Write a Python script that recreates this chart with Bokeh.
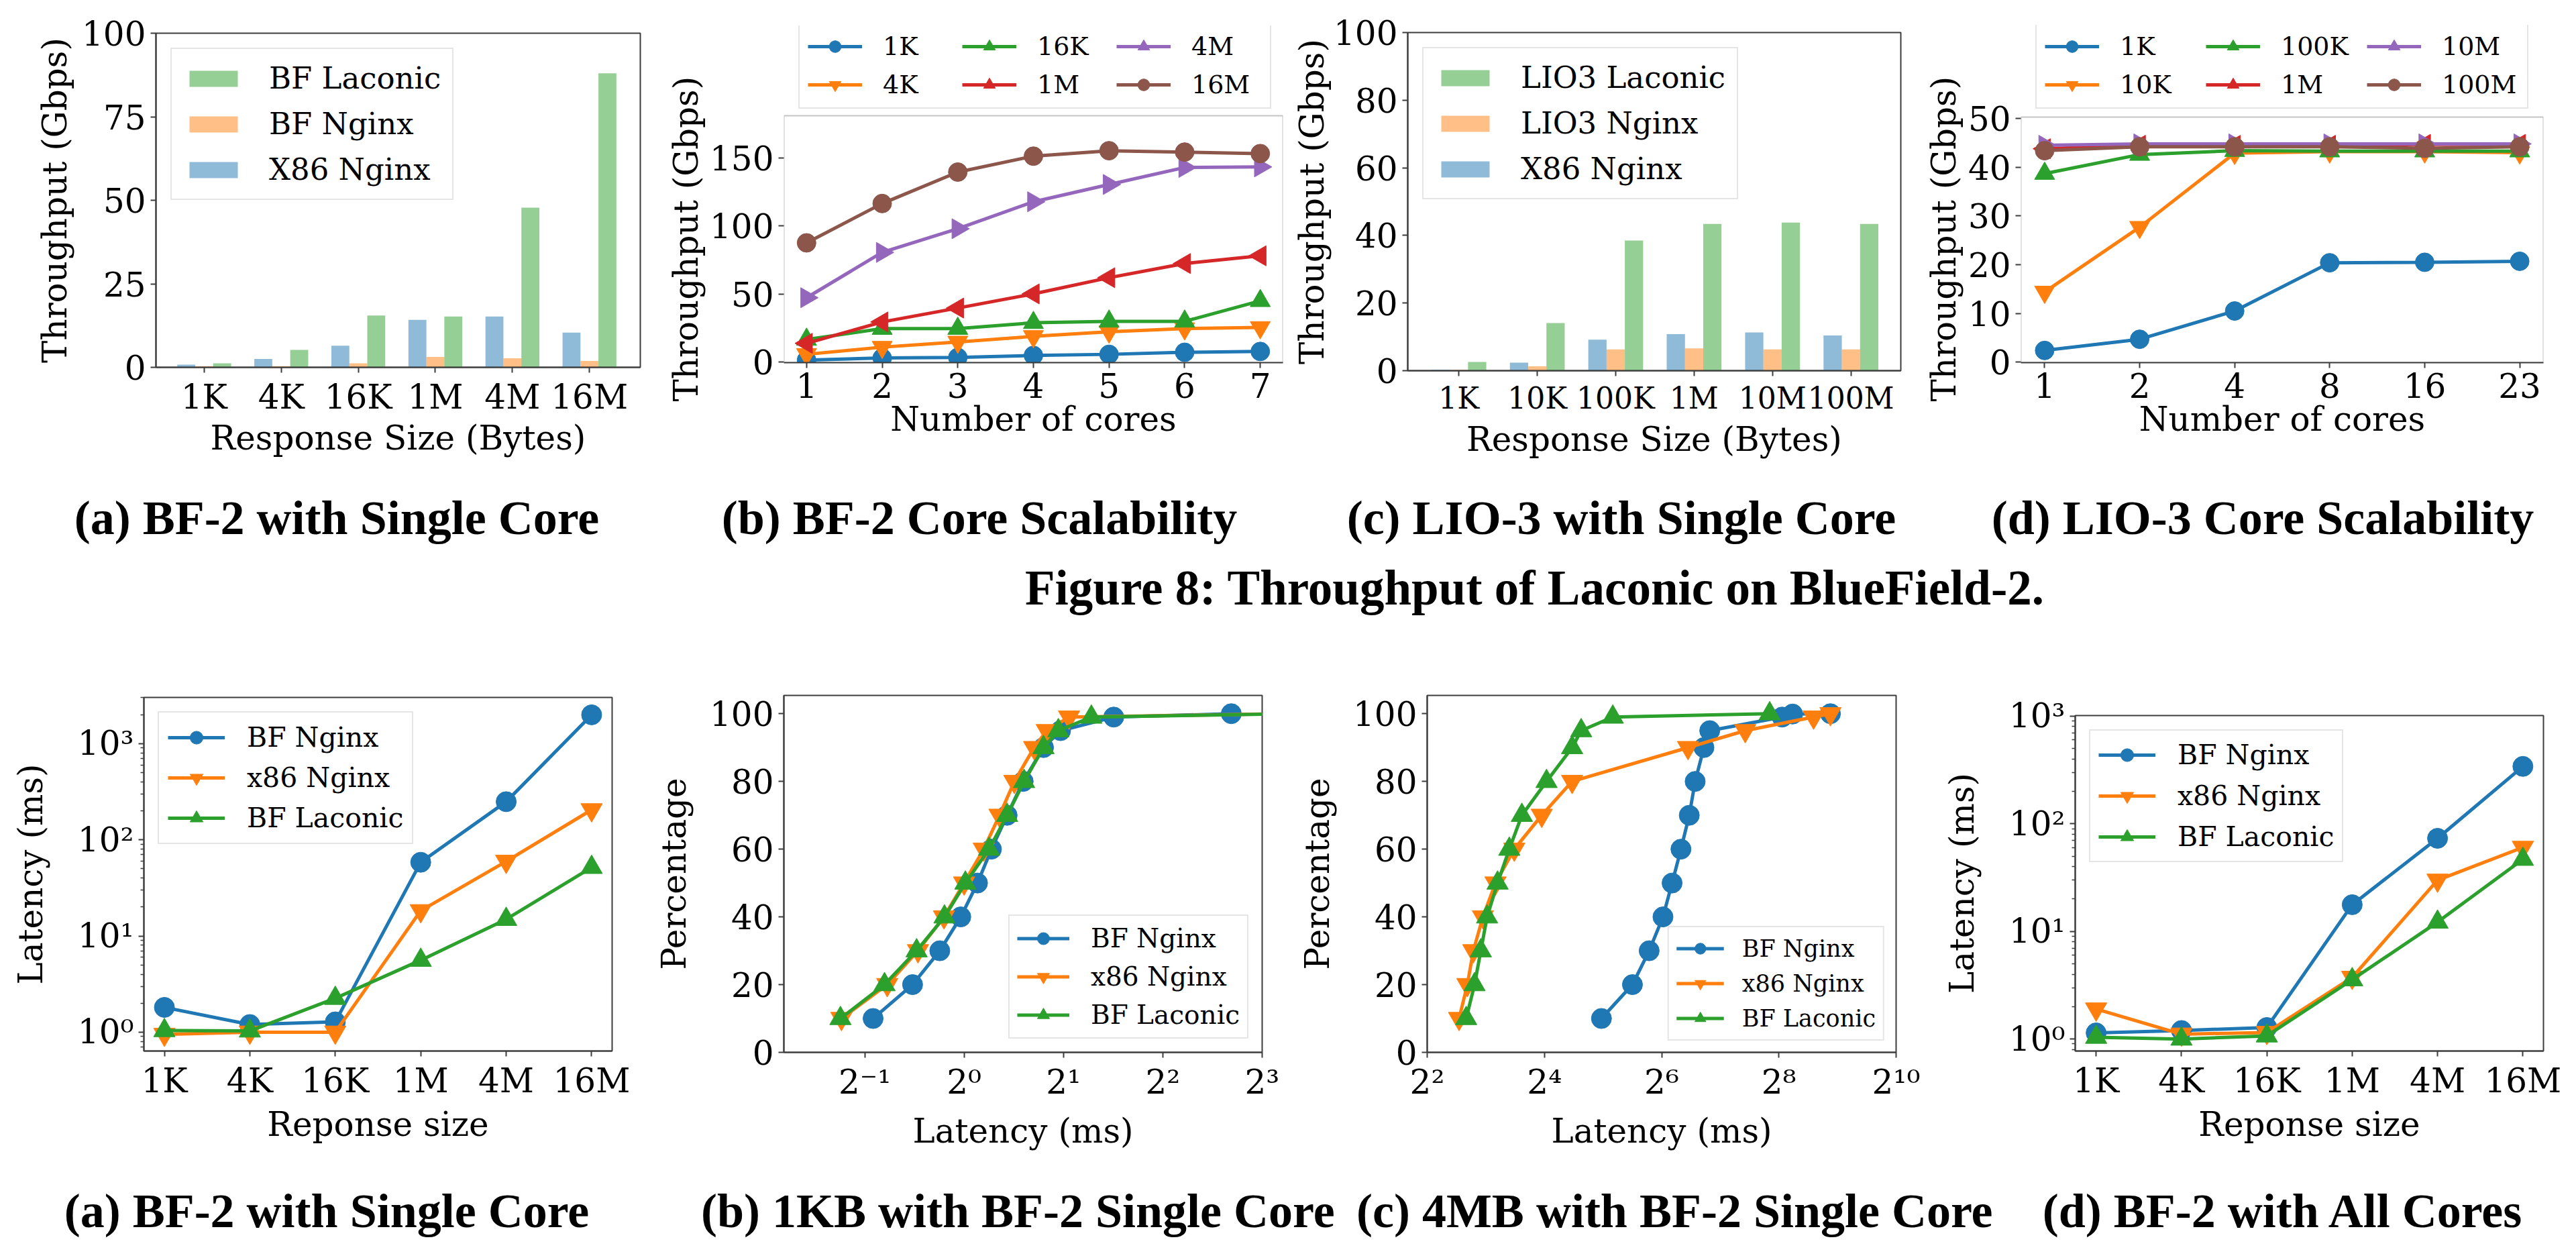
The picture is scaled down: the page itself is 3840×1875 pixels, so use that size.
import math
from bokeh.plotting import figure
from bokeh.models import (Range1d, FixedTicker, Legend, LegendItem, Div,
                          ColumnDataSource, BoxAnnotation, Title)
from bokeh.layouts import column, row
from bokeh.transform import dodge
from bokeh.embed import file_html
from bokeh.resources import INLINE

# ------------------------------------------------------------------ data
# Figure 8 (a): BF-2 with single core, throughput (Gbps)
sizes_a = ["1K", "4K", "16K", "1M", "4M", "16M"]
a_x86_nginx = [0.8, 2.5, 6.5, 14.2, 15.2, 10.4]
a_bf_nginx = [0.3, 0.3, 1.2, 3.1, 2.7, 1.9]
a_bf_laconic = [1.2, 5.2, 15.5, 15.2, 47.8, 88.0]
yt_a = [0, 25, 50, 75, 100]

# Figure 8 (b): BF-2 core scalability
cores_b = [1, 2, 3, 4, 5, 6, 7]
b_1K = [1.5, 3.0, 3.4, 4.9, 5.7, 7.2, 7.8]
b_4K = [5.7, 11.0, 14.8, 18.9, 22.3, 24.6, 25.5]
b_16K = [16.6, 24.6, 24.6, 28.9, 29.9, 29.9, 45.0]
b_1M = [13.8, 29.5, 39.7, 50.1, 62.0, 72.4, 78.1]
b_4M = [47.3, 80.6, 98.0, 117.8, 130.5, 143.0, 143.4]
b_16M = [87.6, 116.5, 139.6, 151.3, 155.3, 154.3, 153.2]
yt_b = [0, 50, 100, 150]

# Figure 8 (c): LIO-3 with single core
sizes_c = ["1K", "10K", "100K", "1M", "10M", "100M"]
c_x86_nginx = [0.3, 2.4, 9.2, 10.8, 11.3, 10.4]
c_lio3_nginx = [0.2, 1.3, 6.3, 6.6, 6.3, 6.3]
c_lio3_laconic = [2.6, 14.1, 38.5, 43.4, 43.8, 43.4]
yt_c = [0, 20, 40, 60, 80, 100]

# Figure 8 (d): LIO-3 core scalability
cores_d = ["1", "2", "4", "8", "16", "23"]
d_1K = [2.4, 4.7, 10.5, 20.4, 20.5, 20.7]
d_10K = [14.4, 27.7, 42.9, 43.2, 43.2, 43.0]
d_100K = [38.7, 42.6, 43.4, 43.3, 43.3, 43.3]
d_1M = [43.8, 44.5, 44.5, 44.5, 44.7, 44.7]
d_10M = [44.5, 44.8, 44.8, 44.8, 44.8, 44.8]
d_100M = [43.4, 44.2, 44.2, 44.2, 43.9, 44.2]
yt_d = [0, 10, 20, 30, 40, 50]

# Latency (a): BF-2 single core
sizes_la = ["1K", "4K", "16K", "1M", "4M", "16M"]
la_bf_nginx = [1.81, 1.2, 1.28, 58.4, 249.0, 1991.0]
la_x86_nginx = [0.95, 1.0, 1.0, 18.3, 59.7, 205.0]
la_bf_laconic = [1.04, 1.03, 2.25, 5.6, 14.9, 51.7]

# Latency (d): BF-2 all cores
la_d_bf_nginx = [1.14, 1.2, 1.28, 17.7, 73.2, 341.0]
la_d_x86_nginx = [1.9, 1.11, 1.15, 3.74, 29.9, 60.3]
la_d_bf_laconic = [1.04, 1.0, 1.07, 3.56, 12.2, 46.8]

log_ticks = [1, 10, 100, 1000]
log_labels = ["10\u2070", "10\u00b9", "10\u00b2", "10\u00b3"]

# CDF (b): 1KB, BF-2 single core
pct_lb = [10, 20, 30, 40, 50, 60, 70, 80, 90, 95, 99, 100]
lb_bf_nginx = [0.530, 0.698, 0.844, 0.977, 1.098, 1.21, 1.35, 1.51, 1.74, 1.96, 2.84, 6.45]
lb_x86_nginx = [0.425, 0.585, 0.725, 0.869, 1.0, 1.147, 1.28, 1.42, 1.63, 1.78, 2.08, 9.5]
lb_bf_laconic = [0.422, 0.574, 0.718, 0.872, 1.009, 1.19, 1.35, 1.52, 1.74, 1.93, 2.43, 10.0]
xt_lb = [0.5, 1, 2, 4, 8]
xl_lb = ["2\u207b\u00b9", "2\u2070", "2\u00b9", "2\u00b2", "2\u00b3"]

# CDF (c): 4MB, BF-2 single core
pct_lc_bf = [10, 20, 30, 40, 50, 60, 70, 80, 90, 95, 99, 99.9, 100]
lc_bf_nginx = [31.4, 45.3, 55.2, 65.0, 72.4, 80.4, 88.7, 95.1, 105.5, 113.0, 266.0, 301.0, 471.0]
pct_lc = [10, 20, 30, 40, 50, 60, 70, 80, 90, 95, 99, 100]
lc_x86_nginx = [5.83, 6.43, 6.9, 7.73, 8.97, 11.2, 15.5, 22.2, 87.4, 172.0, 386.0, 471.0]
lc_bf_laconic = [6.34, 7.0, 7.54, 8.12, 9.19, 10.56, 12.25, 16.4, 22.2, 24.7, 35.9, 229.6]
xt_lc = [4, 16, 64, 256, 1024]
xl_lc = ["2\u00b2", "2\u2074", "2\u2076", "2\u2078", "2\u00b9\u2070"]
yt_pct = [0, 20, 40, 60, 80, 100]

top_captions = ["(a) BF-2 with Single Core", "(b) BF-2 Core Scalability",
                "(c) LIO-3 with Single Core", "(d) LIO-3 Core Scalability"]
fig_caption = "Figure 8: Throughput of Laconic on BlueField-2."
bottom_captions = ["(a) BF-2 with Single Core", "(b) 1KB with BF-2 Single Core",
                   "(c) 4MB with BF-2 Single Core", "(d) BF-2 with All Cores"]

# ------------------------------------------------------------------ style
C_BLUE, C_ORANGE, C_GREEN = "#1f77b4", "#ff7f0e", "#2ca02c"
C_RED, C_PURPLE, C_BROWN = "#d62728", "#9467bd", "#8c564b"
FONT = "DejaVu Serif"
AX = "#3d3d3d"


def make_fig(width, height, left, right, top, bottom, x_range, y_range,
             x_axis_type="auto", y_axis_type="auto"):
    p = figure(width=width, height=height, x_range=x_range, y_range=y_range,
               x_axis_type=x_axis_type, y_axis_type=y_axis_type,
               output_backend="svg", toolbar_location=None,
               min_border_left=left, min_border_right=right,
               min_border_top=top, min_border_bottom=bottom)
    try:
        p.frame_align = False
    except Exception:
        pass
    p.outline_line_color = AX
    p.outline_line_width = 2
    p.outline_line_alpha = 1
    p.xgrid.visible = False
    p.ygrid.visible = False
    p.background_fill_color = "white"
    p.border_fill_color = "white"
    for ax in p.axis:
        ax.axis_line_color = AX
        ax.axis_line_width = 2
        ax.major_tick_line_color = AX
        ax.major_tick_line_width = 2
        ax.major_tick_out = 8
        ax.major_tick_in = 0
        ax.minor_tick_line_color = AX
        ax.minor_tick_line_width = 1.5
        ax.minor_tick_out = 5
        ax.minor_tick_in = 0
        ax.major_label_text_font = FONT
        ax.major_label_text_font_size = "50px"
        ax.major_label_text_color = "black"
        ax.major_label_standoff = 7
        ax.axis_label_text_font = FONT
        ax.axis_label_text_font_size = "50px"
        ax.axis_label_text_font_style = "normal"
        ax.axis_label_text_color = "black"
    return p


def set_labels(p, xlabel, ylabel, xs, ys):
    p.xaxis.axis_label = xlabel
    p.yaxis.axis_label = ylabel
    p.xaxis.axis_label_standoff = xs
    p.yaxis.axis_label_standoff = ys


def make_legend(items, font_px, glyph_w, glyph_h, label_h, spacing, padding,
                standoff, location, margin, label_w=20, nrows=None):
    lg = Legend(items=items, location=location, label_text_font=FONT,
                label_text_font_size=f"{font_px}px", label_text_color="black",
                glyph_width=glyph_w, glyph_height=glyph_h, label_height=label_h,
                label_width=label_w, spacing=spacing, padding=padding,
                label_standoff=standoff, margin=margin,
                border_line_color="#cccccc", border_line_width=2,
                background_fill_color="white", background_fill_alpha=0.8)
    if nrows is not None:
        lg.orientation = "vertical"
        lg.nrows = nrows
    return lg


def add_series(p, x, y, color, marker, angle=0.0, size=28, lw=5):
    src = ColumnDataSource(dict(x=x, y=y))
    lr = p.line("x", "y", source=src, line_color=color, line_width=lw)
    sr = p.scatter("x", "y", source=src, marker=marker, angle=angle, size=size,
                   fill_color=color, line_color=color)
    return [lr, sr]


def bar_panel(p, cats, blue, orange, green, names, font_px):
    idx = list(range(len(cats)))
    src = ColumnDataSource(dict(idx=idx, b=blue, o=orange, g=green))
    w = 0.233
    rb = p.vbar(x=dodge("idx", -w), top="b", width=w, source=src,
                fill_color=C_BLUE, fill_alpha=0.5, line_color=None)
    ro = p.vbar(x=dodge("idx", 0.0), top="o", width=w, source=src,
                fill_color=C_ORANGE, fill_alpha=0.5, line_color=None)
    rg = p.vbar(x=dodge("idx", w), top="g", width=w, source=src,
                fill_color=C_GREEN, fill_alpha=0.5, line_color=None)
    items = [LegendItem(label=names[0], renderers=[rg]),
             LegendItem(label=names[1], renderers=[ro]),
             LegendItem(label=names[2], renderers=[rb])]
    p.add_layout(make_legend(items, font_px, 90, 30, 52, 15, 17, 38, "top_left", 22))
    p.xaxis.ticker = FixedTicker(ticks=idx)
    p.xaxis.major_label_overrides = {i: s for i, s in zip(idx, cats)}


def boxed_axes(p, x0, x1, y0, y1, ylabel, label_offset):
    """Axes box drawn below a legend that sits above it (legend inside the
    plotting area, box drawn as an annotation)."""
    p.outline_line_color = None
    p.yaxis.axis_line_color = None
    p.add_layout(BoxAnnotation(left=x0, right=x1, bottom=y0, top=y1,
                               fill_alpha=0, line_color=AX, line_width=2))
    p.yaxis.axis_label = None
    p.add_layout(Title(text=ylabel, align="left", offset=label_offset,
                       text_font=FONT, text_font_size="50px", text_font_style="normal",
                       text_color="black", standoff=8), "left")


# ------------------------------------------------------------------ top row
# (a)
ta = make_fig(972, 722, 232, 18, 49, 175, Range1d(-0.626, 5.66), Range1d(0, 100))
bar_panel(ta, sizes_a, a_x86_nginx, a_bf_nginx, a_bf_laconic,
          ["BF Laconic", "BF Nginx", "X86 Nginx"], 45)
ta.yaxis.ticker = FixedTicker(ticks=yt_a)
set_labels(ta, "Response Size (Bytes)", "Throughput (Gbps)", 0, 8)

# (b)  -- plotting box 180..548 px, legend above it
s_b = [("1K", b_1K, C_BLUE, "circle", 0.0), ("4K", b_4K, C_ORANGE, "inverted_triangle", 0.0),
       ("16K", b_16K, C_GREEN, "triangle", 0.0), ("1M", b_1M, C_RED, "triangle", math.pi / 2),
       ("4M", b_4M, C_PURPLE, "triangle", -math.pi / 2), ("16M", b_16M, C_BROWN, "circle", 0.0)]
yb0, yb1 = -0.4, 181.0
tb = make_fig(942, 722, 196, 2, 38, 182, Range1d(0.7, 7.3),
              Range1d(yb0, yb1 + 134 * (yb1 - yb0) / 368))
items = []
for name, ys, col, mk, ang in s_b:
    rs = add_series(tb, cores_b, ys, col, mk, ang, size=28 if mk == "circle" else 30)
    items.append(LegendItem(label=name, renderers=rs))
tb.add_layout(make_legend(items, 38, 81, 44, 44, 13, 12, 31, (22, 378), 0, label_w=105, nrows=2))
tb.xaxis.ticker = FixedTicker(ticks=cores_b)
tb.yaxis.ticker = FixedTicker(ticks=yt_b)
set_labels(tb, "Number of cores", "Throughput (Gbps)", 0, 21)
boxed_axes(tb, 0.7, 7.3, yb0, yb1, "Throughput (Gbps)", -58)

# (c)
tc = make_fig(938, 722, 184, 19, 48, 170, Range1d(-0.652, 5.636), Range1d(0, 100))
bar_panel(tc, sizes_c, c_x86_nginx, c_lio3_nginx, c_lio3_laconic,
          ["LIO3 Laconic", "LIO3 Nginx", "X86 Nginx"], 45)
tc.yaxis.ticker = FixedTicker(ticks=yt_c)
tc.xaxis.major_label_text_font_size = "44px"
set_labels(tc, "Response Size (Bytes)", "Throughput (Gbps)", 4, 0)

# (d)  -- plotting box 182..548 px, legend above it
idx_d = list(range(len(cores_d)))
s_d = [("1K", d_1K, C_BLUE, "circle", 0.0), ("10K", d_10K, C_ORANGE, "inverted_triangle", 0.0),
       ("100K", d_100K, C_GREEN, "triangle", 0.0), ("1M", d_1M, C_RED, "triangle", math.pi / 2),
       ("10M", d_10M, C_PURPLE, "triangle", -math.pi / 2), ("100M", d_100M, C_BROWN, "circle", 0.0)]
yd0, yd1 = -0.1, 50.3
td = make_fig(972, 722, 160, 33, 37, 182, Range1d(-0.25, len(cores_d) - 0.75),
              Range1d(yd0, yd1 + 137 * (yd1 - yd0) / 366))
items = []
for name, ys, col, mk, ang in s_d:
    rs = add_series(td, idx_d, ys, col, mk, ang, size=28 if mk == "circle" else 30)
    items.append(LegendItem(label=name, renderers=rs))
td.add_layout(make_legend(items, 38, 81, 44, 44, 13, 12, 31, (22, 378), 0, label_w=115, nrows=2))
td.xaxis.ticker = FixedTicker(ticks=idx_d)
td.xaxis.major_label_overrides = {i: s for i, s in zip(idx_d, cores_d)}
td.yaxis.ticker = FixedTicker(ticks=yt_d)
set_labels(td, "Number of cores", "Throughput (Gbps)", 0, 15)
boxed_axes(td, -0.25, len(cores_d) - 0.75, yd0, yd1, "Throughput (Gbps)", -58)

# ------------------------------------------------------------------ bottom row
minor_log = [k * 10 ** e for e in range(-1, 4) for k in range(2, 10)]
lat_names = ["BF Nginx", "x86 Nginx", "BF Laconic"]
lat_cols = [C_BLUE, C_ORANGE, C_GREEN]
lat_marks = ["circle", "inverted_triangle", "triangle"]


def latency_panel(p, idx, series, legend_args):
    items = []
    for name, ys, col, mk in zip(lat_names, series, lat_cols, lat_marks):
        rs = add_series(p, idx, ys, col, mk, 0.0, size=30 if mk == "circle" else 32)
        items.append(LegendItem(label=name, renderers=rs))
    p.add_layout(make_legend(items, *legend_args))


# (a) latency
idx_la = list(range(len(sizes_la)))
ba = make_fig(967, 820, 214, 55, 107, 186, Range1d(-0.24, len(sizes_la) - 0.76),
              Range1d(0.637, 3020), y_axis_type="log")
latency_panel(ba, idx_la, [la_bf_nginx, la_x86_nginx, la_bf_laconic],
              (41, 85, 48, 48, 12, 13, 33, "top_left", 21))
ba.xaxis.ticker = FixedTicker(ticks=idx_la)
ba.xaxis.major_label_overrides = {i: s for i, s in zip(idx_la, sizes_la)}
ba.yaxis.ticker = FixedTicker(ticks=log_ticks, minor_ticks=minor_log)
ba.yaxis.major_label_overrides = {t: s for t, s in zip(log_ticks, log_labels)}
set_labels(ba, "Reponse size", "Latency (ms)", 4, 38)

# (b) CDF 1KB
bb = make_fig(950, 820, 201, 36, 104, 184, Range1d(2 ** -1.814, 8.0008),
              Range1d(0, 105.4), x_axis_type="log")
items = []
for name, xs, col, mk in zip(lat_names, [lb_bf_nginx, lb_x86_nginx, lb_bf_laconic], lat_cols, lat_marks):
    rs = add_series(bb, xs, pct_lb, col, mk, 0.0, size=30 if mk == "circle" else 32)
    items.append(LegendItem(label=name, renderers=rs))
bb.add_layout(make_legend(items, 39, 78, 45, 45, 12, 11, 32, "bottom_right", 20))
bb.xaxis.ticker = FixedTicker(ticks=xt_lb, minor_ticks=[])
bb.xaxis.major_label_overrides = {t: s for t, s in zip(xt_lb, xl_lb)}
bb.yaxis.ticker = FixedTicker(ticks=yt_pct)
set_labels(bb, "Latency (ms)", "Percentage", 12, 21)

# (c) CDF 4MB
bc = make_fig(955, 820, 210, 46, 104, 184, Range1d(3.999, 1024.1),
              Range1d(0, 105.4), x_axis_type="log")
items = []
for name, xs, ps, col, mk in zip(lat_names, [lc_bf_nginx, lc_x86_nginx, lc_bf_laconic],
                                 [pct_lc_bf, pct_lc, pct_lc], lat_cols, lat_marks):
    rs = add_series(bc, xs, ps, col, mk, 0.0, size=30 if mk == "circle" else 32)
    items.append(LegendItem(label=name, renderers=rs))
bc.add_layout(make_legend(items, 35, 71, 41, 41, 11, 11, 27, "bottom_right", 17))
bc.xaxis.ticker = FixedTicker(ticks=xt_lc, minor_ticks=[])
bc.xaxis.major_label_overrides = {t: s for t, s in zip(xt_lc, xl_lc)}
bc.yaxis.ticker = FixedTicker(ticks=yt_pct)
set_labels(bc, "Latency (ms)", "Percentage", 12, 21)

# (d) latency all cores
bd = make_fig(952, 820, 221, 33, 134, 186, Range1d(-0.245, len(sizes_la) - 0.759),
              Range1d(0.774, 1012), y_axis_type="log")
latency_panel(bd, idx_la, [la_d_bf_nginx, la_d_x86_nginx, la_d_bf_laconic],
              (41, 85, 48, 48, 13, 12, 33, "top_left", 21))
bd.xaxis.ticker = FixedTicker(ticks=idx_la)
bd.xaxis.major_label_overrides = {i: s for i, s in zip(idx_la, sizes_la)}
bd.yaxis.ticker = FixedTicker(ticks=log_ticks, minor_ticks=minor_log)
bd.yaxis.major_label_overrides = {t: s for t, s in zip(log_ticks, log_labels)}
set_labels(bd, "Reponse size", "Latency (ms)", 4, 38)


# ------------------------------------------------------------------ captions
def caption_div(texts, centers, height, font_px):
    inner = ""
    for t, c in zip(texts, centers):
        inner += (f'<div style="position:absolute;left:{c - 8 - 420}px;top:0;width:840px;'
                  f'height:{height}px;line-height:{height}px;text-align:center;white-space:nowrap;'
                  f"font-family:'Liberation Serif',serif;font-weight:bold;font-size:{font_px}px;"
                  f'color:#000;">{t}</div>')
    html = f'<div style="position:relative;width:3824px;height:{height}px;">{inner}</div>'
    return Div(text=html, width=3824, height=height, margin=0)


cap_top = caption_div(top_captions, [510, 1468, 2425, 3381], 100, 72)
cap_fig = caption_div([fig_caption], [1956], 110, 73)
cap_bot = caption_div(bottom_captions, [495, 1473, 2450, 3410], 107, 72)

layout = column(row(ta, tb, tc, td), cap_top, cap_fig, row(ba, bb, bc, bd), cap_bot)

open("out.html", "w").write(file_html(layout, INLINE))
